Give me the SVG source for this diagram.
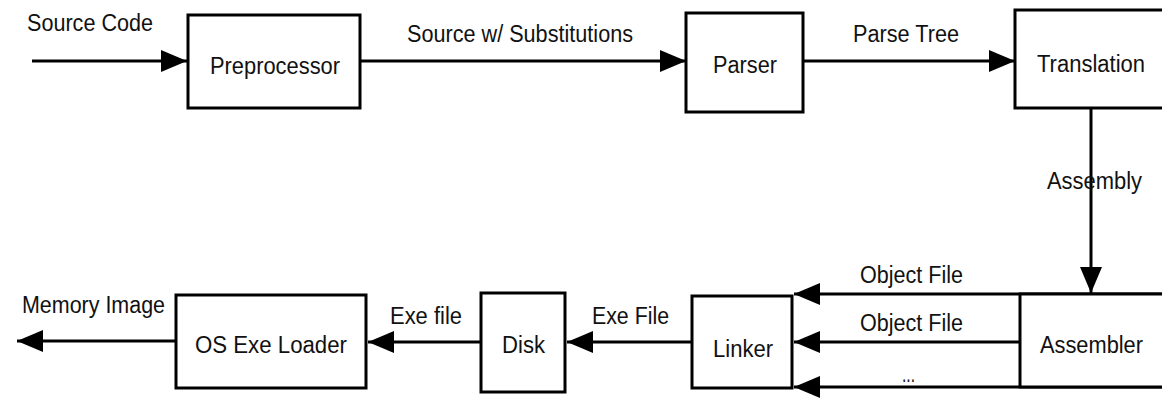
<svg xmlns="http://www.w3.org/2000/svg" width="1162" height="398" viewBox="0 0 1162 398">
<style>
.box{fill:#fff;stroke:#000;stroke-width:3}
.ln{fill:none;stroke:#000;stroke-width:3}
text{font-family:"Liberation Sans",Arial,sans-serif;font-size:23px;fill:#111}
</style>
<defs>
<marker id="ah" markerUnits="userSpaceOnUse" markerWidth="26" markerHeight="22" refX="26" refY="11" orient="auto">
<path d="M0,0 L26,11 L0,22 z" fill="#000"/>
</marker>
</defs>
<g id="connectors">
<line class="ln" x1="32" y1="61" x2="187" y2="61" marker-end="url(#ah)"/>
<line class="ln" x1="360" y1="61" x2="686" y2="61" marker-end="url(#ah)"/>
<line class="ln" x1="803" y1="61" x2="1015" y2="61" marker-end="url(#ah)"/>
<line class="ln" x1="1091" y1="108" x2="1091" y2="293" marker-end="url(#ah)"/>
<line class="ln" x1="1162" y1="294" x2="794" y2="294" marker-end="url(#ah)"/>
<line class="ln" x1="1020" y1="342" x2="794" y2="342" marker-end="url(#ah)"/>
<line class="ln" x1="1162" y1="387" x2="794" y2="387" marker-end="url(#ah)"/>
<line class="ln" x1="692" y1="342" x2="567" y2="342" marker-end="url(#ah)"/>
<line class="ln" x1="481" y1="342" x2="368" y2="342" marker-end="url(#ah)"/>
<line class="ln" x1="176" y1="341" x2="17" y2="341" marker-end="url(#ah)"/>
<text x="27" y="31" textLength="126" lengthAdjust="spacingAndGlyphs">Source Code</text>
<text x="407" y="42" textLength="226" lengthAdjust="spacingAndGlyphs">Source w/ Substitutions</text>
<text x="853" y="42" textLength="106" lengthAdjust="spacingAndGlyphs">Parse Tree</text>
<text x="1047" y="189" textLength="95" lengthAdjust="spacingAndGlyphs">Assembly</text>
<text x="860" y="283" textLength="103" lengthAdjust="spacingAndGlyphs">Object File</text>
<text x="860" y="331" textLength="103" lengthAdjust="spacingAndGlyphs">Object File</text>
<text x="902" y="382" textLength="13" lengthAdjust="spacingAndGlyphs">...</text>
<text x="592" y="324" textLength="77" lengthAdjust="spacingAndGlyphs">Exe File</text>
<text x="390" y="324" textLength="72" lengthAdjust="spacingAndGlyphs">Exe file</text>
<text x="22" y="313" textLength="143" lengthAdjust="spacingAndGlyphs">Memory Image</text>
</g>
<g id="preprocessor">
<rect class="box" x="188" y="15" width="172" height="93"/>
<text x="210" y="74" textLength="130" lengthAdjust="spacingAndGlyphs">Preprocessor</text>
</g>
<g id="parser">
<rect class="box" x="686" y="13" width="117" height="99"/>
<text x="713" y="73" textLength="64" lengthAdjust="spacingAndGlyphs">Parser</text>
</g>
<g id="translation">
<rect class="box" x="1015" y="10" width="200" height="98"/>
<text x="1037" y="72" textLength="108" lengthAdjust="spacingAndGlyphs">Translation</text>
</g>
<g id="assembler">
<rect class="box" x="1020" y="294" width="200" height="93"/>
<text x="1040" y="353" textLength="103" lengthAdjust="spacingAndGlyphs">Assembler</text>
</g>
<g id="linker">
<rect class="box" x="692" y="296" width="100" height="92"/>
<text x="713" y="357" textLength="60" lengthAdjust="spacingAndGlyphs">Linker</text>
</g>
<g id="disk">
<rect class="box" x="481" y="293" width="84" height="99"/>
<text x="502" y="353" textLength="43" lengthAdjust="spacingAndGlyphs">Disk</text>
</g>
<g id="loader">
<rect class="box" x="176" y="295" width="190" height="93"/>
<text x="195" y="353" textLength="152" lengthAdjust="spacingAndGlyphs">OS Exe Loader</text>
</g>
</svg>
